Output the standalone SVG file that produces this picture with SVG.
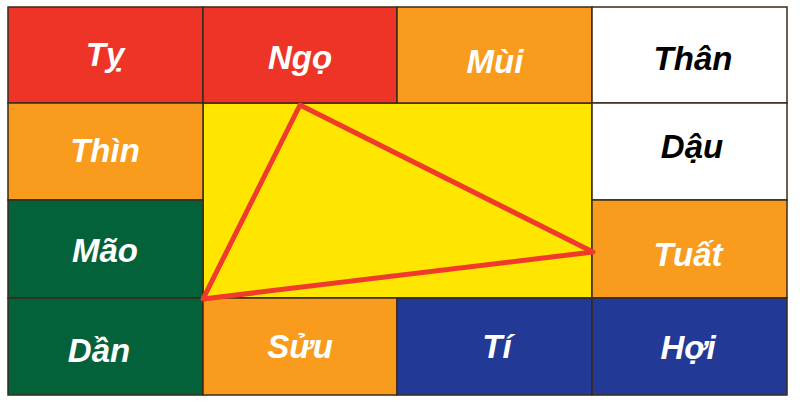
<svg xmlns="http://www.w3.org/2000/svg" width="800" height="403" viewBox="0 0 800 403">
<style>
.c{stroke:#3a2a1a;stroke-width:1.5}
.red{fill:#EE3427}
.org{fill:#F99B1C}
.wht{fill:#FFFFFF}
.grn{fill:#03623A}
.blu{fill:#223A96}
.yel{fill:#FFE600}
text{font-family:"Liberation Sans",Arial,sans-serif;font-weight:bold;font-style:italic;font-size:33px;text-anchor:middle}
.w{fill:#FFFFFF}
.k{fill:#000000}
</style>
<rect width="800" height="403" fill="#FFFFFF"/>
<g id="center"><rect class="c yel" x="203" y="103" width="389" height="195"/></g>
<g id="ty"><rect class="c red" x="8" y="7" width="195" height="96"/><text class="w" x="105" y="66">Tỵ</text></g>
<g id="ngo"><rect class="c red" x="203" y="7" width="194" height="96"/><text class="w" x="300" y="69">Ngọ</text></g>
<g id="mui"><rect class="c org" x="397" y="7" width="195" height="96"/><text class="w" x="495" y="73">Mùi</text></g>
<g id="than"><rect class="c wht" x="592" y="7" width="195" height="96"/><text class="k" x="693" y="70">Thân</text></g>
<g id="thin"><rect class="c org" x="8" y="103" width="195" height="97"/><text class="w" x="105" y="162">Thìn</text></g>
<g id="dau"><rect class="c wht" x="592" y="103" width="195" height="97"/><text class="k" x="692" y="158">Dậu</text></g>
<g id="mao"><rect class="c grn" x="8" y="200" width="195" height="98"/><text class="w" x="105" y="262">Mão</text></g>
<g id="tuat"><rect class="c org" x="592" y="200" width="195" height="98"/><text class="w" x="688" y="266">Tuất</text></g>
<g id="dan"><rect class="c grn" x="8" y="298" width="195" height="97"/><text class="w" x="99" y="362">Dần</text></g>
<g id="suu"><rect class="c org" x="203" y="298" width="194" height="97"/><text class="w" x="300" y="358">Sửu</text></g>
<g id="ti"><rect class="c blu" x="397" y="298" width="195" height="97"/><text class="w" x="497" y="358">Tí</text></g>
<g id="hoi"><rect class="c blu" x="592" y="298" width="195" height="97"/><text class="w" x="688" y="359">Hợi</text></g>
<g id="connectors">
<polygon points="300,105 593,252 203,299" fill="none" stroke="#F03A2A" stroke-width="5" stroke-linejoin="round"/>
</g>
</svg>
